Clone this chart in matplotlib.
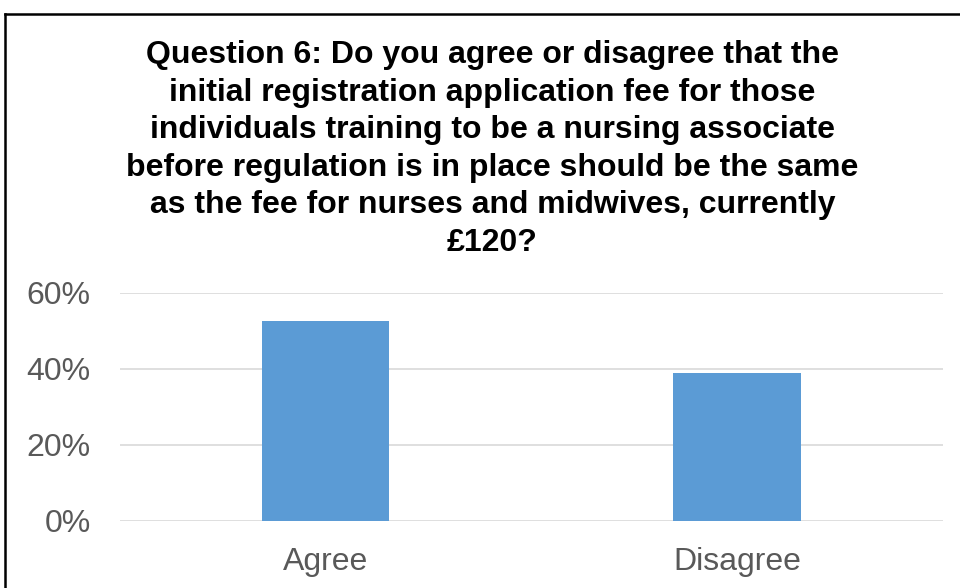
import matplotlib.pyplot as plt
from matplotlib.lines import Line2D
from matplotlib.ticker import PercentFormatter

categories = ['Agree', 'Disagree']
shares = [0.527, 0.389]
y_ticks = [0, 0.2, 0.4, 0.6]

title = ('Question 6: Do you agree or disagree that the\n'
         'initial registration application fee for those\n'
         'individuals training to be a nursing associate\n'
         'before regulation is in place should be the same\n'
         'as the fee for nurses and midwives, currently\n'
         '£120?')

plt.rcParams['font.family'] = ['Liberation Sans', 'DejaVu Sans']

fig = plt.figure(figsize=(9.6, 5.88), dpi=100)
ax = fig.add_axes([0.125, 0.1145, 0.857, 0.3875])

x = range(len(categories))
ax.bar(x, shares, width=0.31, color='#5b9bd5', zorder=3)

ax.set_xlim(-0.5, len(categories) - 0.5)
ax.set_ylim(0, 0.6)
ax.set_yticks(y_ticks)
ax.yaxis.set_major_formatter(PercentFormatter(1.0, decimals=0))
ax.set_xticks(list(x))
ax.set_xticklabels(categories)
ax.tick_params(axis='both', length=0, labelsize=23, labelcolor='#595959')
ax.tick_params(axis='y', pad=21)
ax.tick_params(axis='x', pad=19)
ax.grid(axis='y', color='#d9d9d9', linewidth=1.2, zorder=0)
for side in ax.spines.values():
    side.set_visible(False)

fig.text(0.513, 0.932, title, ha='center', va='top', fontsize=23,
         fontweight='bold', linespacing=1.33)

# outer frame along the top and left edges
fig.add_artist(Line2D([5 / 960, 1], [1 - 14 / 588, 1 - 14 / 588],
                      transform=fig.transFigure, color='black', linewidth=1.8))
fig.add_artist(Line2D([5 / 960, 5 / 960], [0, 1 - 14 / 588],
                      transform=fig.transFigure, color='black', linewidth=1.8))

fig.savefig('out.png', dpi=100)
